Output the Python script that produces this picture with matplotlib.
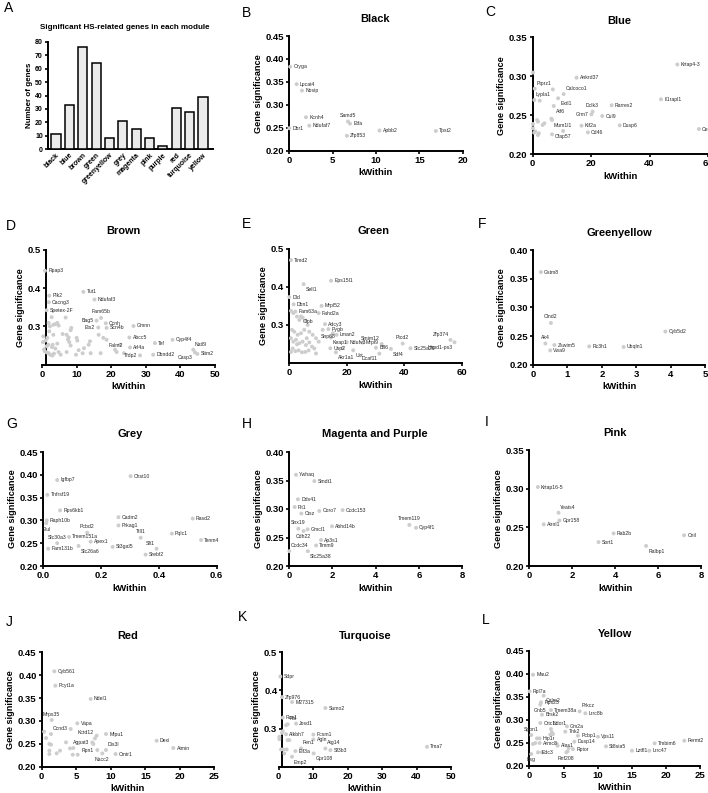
import matplotlib
matplotlib.use("Agg")
import matplotlib.pyplot as plt
from matplotlib.ticker import FormatStrFormatter

plt.rcParams['font.family'] = ['Liberation Sans', 'DejaVu Sans']

W, H = 708, 793
fig = plt.figure(figsize=(W / 100, H / 100), dpi=100)

# ---------------- data ----------------
modules = ['black', 'blue', 'brown', 'green', 'greenyellow', 'grey', 'magenta',
           'pink', 'purple', 'red', 'turquoise', 'yellow']
module_counts = [11, 33, 76, 64, 8, 21, 15, 8, 2, 31, 28, 39]

black_names = ['Cryga', 'Lpcat4', 'Nosip', 'Kcnh4', 'Ndufaf7', 'Dbr1', 'Samd5', 'Etfa', 'Zfp853', 'Apbb2', 'Tpst2']
black_x = [0.1, 0.85, 1.46, 1.92, 2.3, 0.0, 6.77, 7.0, 6.65, 10.4, 16.9]
black_y = [0.383, 0.345, 0.331, 0.273, 0.2545, 0.249, 0.2635, 0.259, 0.2325, 0.244, 0.243]

blue_names = ['Krtap4-3', 'Ankrd37', 'Ptprz1', 'Calcoco1', 'Lypla1', 'Extl1', 'Atf6', 'Dclk3', 'Rarres2',
              'Il1rapl1', 'Grm7', 'Cul9', 'Mum1l1', 'Kif2a', 'Dusp6', 'Cd46', 'Cfap57', 'Cers6',
              '', '', '', '', '', '', '', '', '', '', '', '', '', '', '']
blue_x = [49.5, 15.0, 0.7, 10.6, 0.57, 8.7, 7.2, 20.5, 27.0, 43.9, 20.1, 23.8, 6.6, 16.7, 29.8, 18.9, 10.4, 56.9,
          6.9, 2.4, 0.1, 1.5, 1.8, 3.4, 0.1, 0.5, 2.1, 1.8, 6.6, 6.4, 0.1, 0.9, 4.0]
blue_y = [0.315, 0.298, 0.284, 0.277, 0.2694, 0.2716, 0.2617, 0.2545, 0.2626, 0.2703, 0.251, 0.2488, 0.2437,
          0.2364, 0.2368, 0.2278, 0.2296, 0.2321,
          0.283, 0.2686, 0.3046, 0.2437, 0.2416, 0.2373, 0.2386, 0.2274, 0.2266, 0.2244, 0.2253, 0.2454,
          0.233, 0.229, 0.2395]

brown_names = ['Rpap3', 'Tut1', 'Plk2', 'Ndufaf3', 'Cacng3', 'Spetex-2F', 'Fam65b', 'Bag5', 'Ccnh', 'Scn4b',
               'Ets2', 'Gmnn', 'Abcc5', 'Falm2', 'Tef', 'Cyp4f4', 'Arl4a', 'Tfdp2', 'Dbndd2', 'Nat8l',
               'Casp3', 'Stim2'] + [''] * 54
brown_x = [0.77, 11.9, 2.0, 15.1, 1.9, 1.25, 17.0, 15.7, 18.4, 18.6, 16.2, 26.4, 25.2, 18.6, 32.6, 37.7, 25.4,
           28.3, 32.1, 43.7, 44.2, 44.9,
           0.29, 0.19, 0.97, 1.45, 1.83, 2.22, 2.70, 3.19, 3.76, 4.34, 4.73, 2.03, 3.19, 1.74, 2.99, 4.34,
           2.80, 3.76, 0.68, 1.25, 1.83, 2.32, 2.90, 3.38, 4.73, 5.89, 7.05, 7.43, 7.82, 8.20, 8.40, 8.20,
           7.05, 9.94, 10.14, 10.52, 9.75, 12.07, 11.68, 13.42, 13.80, 14.0, 16.31, 16.89, 17.66, 21.04,
           21.53, 22.49, 23.65, 6.76, 7.63, 5.31, 1.25, 0.5]
brown_y = [0.445, 0.390, 0.380, 0.370, 0.363, 0.342, 0.322, 0.315, 0.308, 0.296, 0.297, 0.301, 0.271, 0.265,
           0.2565, 0.265, 0.245, 0.2243, 0.226, 0.2391, 0.232, 0.228,
           0.274, 0.259, 0.263, 0.270, 0.309, 0.300, 0.324, 0.304, 0.306, 0.309, 0.302, 0.287, 0.278, 0.252,
           0.252, 0.255, 0.246, 0.242, 0.235, 0.232, 0.230, 0.226, 0.224, 0.229, 0.233, 0.280, 0.278, 0.266,
           0.259, 0.290, 0.296, 0.250, 0.233, 0.270, 0.263, 0.238, 0.226, 0.243, 0.230, 0.252, 0.261, 0.230,
           0.278, 0.230, 0.270, 0.239, 0.233, 0.252, 0.230, 0.323, 0.271, 0.226, 0.248, 0.240]

green_names = ['Timd2', 'Eps15l1', 'Sell1', 'Dld', 'Dbn1', 'Mrpl52', 'Fam63a', 'Fahd2a', 'Clpb', 'Adcy3',
               'Pygb', 'Snp68', 'Lman2', 'Keap1', 'Ndufv3', 'Mrpl9', 'Usp2', 'Akr1a1', 'Uxt', 'Dcaf11',
               'Smim12', 'Bfl6', 'Sdf4', 'Ptcd2', 'Slc25a29', 'Zfp374', 'Hspd1-ps3'] + [''] * 37
green_x = [0.58, 14.5, 4.98, 0.0, 1.5, 11.2, 2.1, 10.2, 4.06, 12.4, 13.56, 10.2, 16.45, 14.5, 20.0, 25.5,
           14.25, 16.2, 22.2, 31.3, 32.1, 30.1, 35.3, 39.4, 42.1, 56.0, 57.4,
           0.58, 1.39, 2.67, 3.48, 4.63, 5.79, 0.93, 1.74, 2.90, 4.06, 5.21, 6.37, 6.95, 8.11, 9.27, 0.58,
           1.39, 2.32, 3.48, 4.63, 5.79, 6.95, 7.88, 1.16, 2.09, 3.24, 4.40, 5.56, 6.72, 8.69, 9.27, 0.58,
           2.67, 6.05, 11.6, 15.1, 18.5]
green_y = [0.470, 0.416, 0.407, 0.373, 0.354, 0.350, 0.335, 0.331, 0.322, 0.302, 0.289, 0.256, 0.274, 0.267,
           0.2544, 0.2535, 0.2386, 0.228, 0.2333, 0.2246, 0.250, 0.240, 0.237, 0.251, 0.2386, 0.2605, 0.2544,
           0.337, 0.331, 0.322, 0.313, 0.319, 0.311, 0.287, 0.282, 0.274, 0.278, 0.287, 0.300, 0.282, 0.274,
           0.265, 0.265, 0.256, 0.261, 0.252, 0.256, 0.247, 0.254, 0.243, 0.238, 0.231, 0.233, 0.228, 0.229,
           0.233, 0.238, 0.225, 0.229, 0.249, 0.265, 0.287, 0.278, 0.239]

gy_names = ['Gstm8', 'Clnd2', 'Ak4', 'Zswim5', 'Vwa9', 'Rc3h1', 'Ubqln1', 'Cyb5d2']
gy_x = [0.23, 0.52, 0.36, 0.62, 0.5, 1.63, 2.63, 3.84]
gy_y = [0.362, 0.273, 0.237, 0.2344, 0.225, 0.232, 0.231, 0.258]

grey_names = ['Chst10', 'Igfbp7', 'Tnfrsf19', 'Rps6kb1', 'Raph10b', 'Glul', 'Cadm2', 'Prkag1', 'Rasd2',
              'Pcbd2', 'Slc30a3', 'Tmem151a', 'Ttll1', 'Pqlc1', 'Apex1', 'Sfi1', 'Tenm4', 'Fam131b',
              'Slc26a6', 'St3gal5', 'Srebf2']
grey_x = [0.302, 0.048, 0.014, 0.058, 0.012, 0.010, 0.26, 0.26, 0.517, 0.152, 0.048, 0.089, 0.337, 0.445,
          0.164, 0.392, 0.546, 0.017, 0.122, 0.24, 0.354]
grey_y = [0.397, 0.3886, 0.356, 0.322, 0.300, 0.294, 0.307, 0.289, 0.304, 0.273, 0.250, 0.2636, 0.262, 0.271,
          0.2534, 0.238, 0.257, 0.238, 0.244, 0.242, 0.225]

mp_names = ['Ywhaq', 'Smdt1', 'Ddx41', 'Fit1', 'Ctsz', 'Coro7', 'Ccdc153', 'Tmem119', 'Cyp4f1', 'Abhd14b',
            'Snx19', 'Gmcl1', 'Cdh22', 'Ap3s1', 'Ccdc34', 'Timm9', 'Slc25a38']
mp_x = [0.31, 1.16, 0.4, 0.25, 0.56, 1.39, 2.47, 5.56, 5.87, 1.98, 0.42, 0.85, 0.66, 1.47, 0.0, 1.24, 0.86]
mp_y = [0.360, 0.349, 0.317, 0.3035, 0.292, 0.2965, 0.298, 0.272, 0.267, 0.2696, 0.2655, 0.2643, 0.2614,
        0.2456, 0.226, 0.236, 0.226]

pink_names = ['Krtap16-5', 'Yeats4', 'Gpr158', 'Atrnl1', 'Rab2b', 'Sort1', 'Ralbp1', 'Cnil']
pink_x = [0.4, 1.36, 1.4, 0.67, 3.92, 3.22, 5.43, 7.2]
pink_y = [0.3024, 0.269, 0.259, 0.254, 0.2423, 0.231, 0.226, 0.2398]

red_names = ['Cyb561', 'Pcyt1a', 'Ndel1', 'Mrps35', 'Vapa', 'Ccnd3', 'Kctd12', 'Mipu1', 'Agpat3', 'Dexi',
             'Atmin', 'Dis3l', 'Rpn1', 'Nacc2', 'Cmtr1'] + [''] * 16
red_x = [1.83, 1.98, 7.09, 1.45, 5.16, 4.2, 7.72, 9.31, 7.34, 16.65, 19.06, 9.31, 8.06, 8.78, 10.7,
         0.34, 0.63, 1.11, 1.35, 1.11, 1.11, 1.35, 2.17, 2.65, 3.52, 4.1, 4.58, 4.49, 5.21, 7.96, 7.48]
red_y = [0.4085, 0.377, 0.348, 0.302, 0.2948, 0.2824, 0.262, 0.2714, 0.253, 0.2568, 0.2408, 0.2364, 0.2364,
         0.229, 0.2277,
         0.2765, 0.2627, 0.2496, 0.2481, 0.235, 0.2277, 0.2714, 0.2292, 0.235, 0.2532, 0.240, 0.2408, 0.2262,
         0.2262, 0.2678, 0.2496]

turq_names = ['Sdpr', 'Zfp976', 'M27315', 'Sumo2', 'Rce1', 'Fbl', 'Josd1', 'Alkbh7', 'Fcsm1', 'Agln',
              'Atg14', 'Sf3b3', 'Fen1', 'Eif3a', 'Gpr108', 'Emp2', 'Tma7'] + [''] * 11
turq_x = [0.48, 0.97, 3.87, 13.54, 1.16, 2.61, 5.03, 2.13, 10.06, 10.06, 13.54, 14.99, 6.48, 4.84, 10.15,
          3.87, 43.04,
          0.19, 0.19, 0.68, 1.35, 2.32, 1.64, 2.61, 3.09, 1.16, 0.97, 2.13]
turq_y = [0.4365, 0.3826, 0.3696, 0.3539, 0.3287, 0.3113, 0.313, 0.2852, 0.2843, 0.2713, 0.2478, 0.2435,
          0.2478, 0.2409, 0.2348, 0.2261, 0.2522,
          0.2783, 0.2722, 0.2452, 0.2452, 0.2452, 0.2348, 0.2696, 0.2696, 0.293, 0.2887, 0.3087]

yel_names = ['Mau2', 'Rpl7a', 'Calm2', 'Rps23', 'Gnb5', 'Tmem38a', 'Prkcz', 'Lrrc8b', 'Brsk2', 'Crtc1',
             'Gm2a', 'Ndor1', 'Tnk2', 'Pcbp1', 'Vps11', 'Spon1', 'Hip1r', 'Armc8', 'Dusp14', 'Alas1',
             'St8sia5', 'Tmbim6', 'Fermt2', 'Rptor', 'Rnf208', 'Lztfl1', 'Lrrc47', 'Edc3', 'Bsg'] + [''] * 10
yel_x = [0.54, 0.05, 2.1, 1.71, 1.61, 3.17, 7.36, 8.19, 1.85, 1.61, 5.51, 3.17, 5.26, 7.11, 10.04, 0.29,
         1.51, 1.51, 6.58, 4.14, 11.21, 18.32, 22.66, 6.38, 5.41, 15.01, 17.54, 1.27, 0.29,
         0.54, 0.88, 1.12, 1.85, 3.07, 3.46, 4.04, 5.75, 5.6, 3.31]
yel_y = [0.3978, 0.3616, 0.3522, 0.3377, 0.3326, 0.321, 0.3181, 0.3138, 0.3109, 0.2928, 0.2855, 0.2797,
         0.2739, 0.2652, 0.263, 0.2667, 0.2594, 0.2493, 0.2522, 0.2435, 0.242, 0.2486, 0.2543, 0.2362, 0.229,
         0.2326, 0.2326, 0.229, 0.2254,
         0.2471, 0.2493, 0.2594, 0.229, 0.2674, 0.2688, 0.2471, 0.2384, 0.2312, 0.2725]

# ---------------- helpers ----------------
def add_ax(l, t, r, b):
    return fig.add_axes([l / W, 1 - b / H, (r - l) / W, (b - t) / H])


def ftext(x, y, s, **kw):
    fig.text(x / W, 1 - y / H, s, **kw)


OFFS = {
    'r': (2.3, 0, 'left', 'center'),
    'l': (-2.3, 0, 'right', 'center'),
    'a': (0, 2.5, 'center', 'bottom'),
    'b': (0, -2.5, 'center', 'top'),
    'ar': (1.2, 2.2, 'left', 'bottom'),
    'br': (1.5, -2.0, 'left', 'top'),
    'al': (-1.2, 2.2, 'right', 'bottom'),
    'bl': (-1.5, -2.0, 'right', 'top'),
}

POINT_COLOR = '#cdcdcd'
SPINE_LW = 1.4


def style_axes(ax, fs=6.8):
    for s in ['top', 'right']:
        ax.spines[s].set_visible(False)
    for s in ['left', 'bottom']:
        ax.spines[s].set_linewidth(SPINE_LW)
    ax.tick_params(direction='out', length=2.5, width=1.2, labelsize=fs, pad=1.2)
    for lab in ax.get_xticklabels() + ax.get_yticklabels():
        lab.set_fontweight('bold')


def scatter_panel(box, names, xs, ys, xlim, xticks, ylim, yticks, yfmt, place,
                  xfmt=None, spine_x=None):
    ax = add_ax(*box)
    ax.scatter(xs, ys, s=8, color=POINT_COLOR, edgecolors='none', zorder=3, clip_on=False)
    for n, x, y in zip(names, xs, ys):
        if n:
            dx, dy, ha, va = OFFS[place.get(n, 'r')]
            ax.annotate(n, (x, y), xytext=(dx, dy), textcoords='offset points',
                        ha=ha, va=va, fontsize=3.7, color='#2a2a2a', annotation_clip=False)
    ax.set_xlim(*xlim)
    ax.set_ylim(*ylim)
    ax.set_xticks(xticks)
    ax.set_yticks(yticks)
    ax.yaxis.set_major_formatter(FormatStrFormatter(yfmt))
    if xfmt:
        ax.xaxis.set_major_formatter(FormatStrFormatter(xfmt))
    if spine_x is not None:
        ax.spines['left'].set_position(('data', spine_x))
    style_axes(ax)
    ax.set_xlabel('kWithin', fontsize=6.8, fontweight='bold', labelpad=2.5)
    ax.set_ylabel('Gene significance', fontsize=6.6, fontweight='bold', labelpad=2)
    return ax


# ---------------- panel A ----------------
axA = add_ax(48, 42, 213, 149)
axA.bar(range(len(modules)), module_counts, width=0.68, color='#ebebeb', edgecolor='black', linewidth=1.1,
        zorder=3)
axA.set_xlim(-0.6, 11.75)
axA.set_ylim(0, 80)
axA.set_yticks(range(0, 81, 10))
axA.set_xticks(range(len(modules)))
axA.set_xticklabels(modules, rotation=45, ha='right', rotation_mode='anchor')
style_axes(axA, fs=5)
axA.tick_params(axis='x', length=0, pad=2)
axA.set_ylabel('Number of genes', fontsize=5.8, fontweight='bold', labelpad=1.5)
ftext(125, 27.7, 'Significant HS-related genes in each module', ha='center', va='center',
      fontsize=5.8, fontweight='bold')

# ---------------- scatter panels ----------------
y45 = [0.20, 0.25, 0.30, 0.35, 0.40, 0.45]

scatter_panel((289.3, 36, 462.7, 150.7), black_names, black_x, black_y, (0, 20), [0, 5, 10, 15, 20],
              (0.2, 0.45), y45, '%.2f', {'Samd5': 'a'})

scatter_panel((532.7, 37.3, 708, 154), blue_names, blue_x, blue_y, (0, 60), [0, 20, 40, 60],
              (0.2, 0.35), [0.20, 0.25, 0.30, 0.35], '%.2f',
              {'Ptprz1': 'ar', 'Calcoco1': 'ar', 'Lypla1': 'ar', 'Extl1': 'br', 'Atf6': 'br',
               'Dclk3': 'a', 'Grm7': 'l', 'Cfap57': 'b', 'Mum1l1': 'br'})

scatter_panel((42.3, 249.7, 215, 364.7), brown_names, brown_x, brown_y, (0, 50), [0, 10, 20, 30, 40, 50],
              (0.2, 0.5), [0.3, 0.4, 0.5], '%.1f',
              {'Fam65b': 'a', 'Bag5': 'l', 'Ets2': 'l', 'Falm2': 'br', 'Tfdp2': 'l', 'Casp3': 'bl',
               'Nat8l': 'ar'}, spine_x=1.0)

scatter_panel((289.3, 248.7, 462, 363), green_names, green_x, green_y, (0, 60), [0, 20, 40, 60],
              (0.2, 0.5), [0.3, 0.4, 0.5], '%.1f',
              {'Sell1': 'br', 'Clpb': 'br', 'Snp68': 'ar', 'Keap1': 'br', 'Akr1a1': 'br', 'Uxt': 'br',
               'Dcaf11': 'bl', 'Smim12': 'al', 'Sdf4': 'br', 'Ptcd2': 'a', 'Zfp374': 'al',
               'Hspd1-ps3': 'bl'})

scatter_panel((533, 250.3, 705.3, 364.7), gy_names, gy_x, gy_y, (0, 5), [0, 1, 2, 3, 4, 5],
              (0.2, 0.4), [0.20, 0.25, 0.30, 0.35, 0.40], '%.2f', {'Clnd2': 'a', 'Ak4': 'a'})

scatter_panel((43.3, 452, 216.7, 566), grey_names, grey_x, grey_y, (0, 0.6), [0, 0.2, 0.4, 0.6],
              (0.2, 0.45), y45, '%.2f',
              {'Glul': 'b', 'Slc30a3': 'a', 'Pcbd2': 'a', 'Ttll1': 'a', 'Sfi1': 'al', 'Slc26a6': 'br'},
              xfmt='%.1f')

scatter_panel((289.3, 452, 462, 566), mp_names, mp_x, mp_y, (0, 8), [0, 2, 4, 6, 8],
              (0.2, 0.4), [0.20, 0.25, 0.30, 0.35, 0.40], '%.2f',
              {'Snx19': 'a', 'Cdh22': 'b', 'Ccdc34': 'ar', 'Slc25a38': 'br', 'Tmem119': 'a'})

scatter_panel((529.3, 450.3, 701.3, 566), pink_names, pink_x, pink_y, (0, 8), [0, 2, 4, 6, 8],
              (0.2, 0.35), [0.20, 0.25, 0.30, 0.35], '%.2f', {'Yeats4': 'ar', 'Ralbp1': 'br'})

scatter_panel((41.7, 652.3, 214.3, 766.7), red_names, red_x, red_y, (0, 25), [0, 5, 10, 15, 20, 25],
              (0.2, 0.45), y45, '%.2f',
              {'Mrps35': 'a', 'Ccnd3': 'l', 'Kctd12': 'al', 'Agpat3': 'l', 'Dis3l': 'ar', 'Rpn1': 'l',
               'Nacc2': 'b'})

scatter_panel((278.7, 652.3, 451, 766.7), turq_names, turq_x, turq_y, (0, 50), [0, 10, 20, 30, 40, 50],
              (0.2, 0.5), [0.3, 0.4, 0.5], '%.1f',
              {'Fbl': 'ar', 'Fen1': 'ar', 'Atg14': 'ar', 'Emp2': 'br', 'Gpr108': 'br'}, spine_x=1.1)

scatter_panel((529.3, 650.7, 700.3, 765.7), yel_names, yel_x, yel_y, (0, 25), [0, 5, 10, 15, 20, 25],
              (0.2, 0.45), y45, '%.2f',
              {'Calm2': 'br', 'Gnb5': 'b', 'Prkcz': 'ar', 'Ndor1': 'ar', 'Rnf208': 'b', 'Bsg': 'b',
               'Spon1': 'a'})

# ---------------- titles & letters ----------------
titles = [('Black', 375, 19.3), ('Blue', 619, 20.7), ('Brown', 123, 231.3), ('Green', 374, 231.3),
          ('Greenyellow', 619, 233), ('Grey', 130, 434.3), ('Magenta and Purple', 375, 434.3),
          ('Pink', 615, 433.3), ('Red', 128, 635.7), ('Turquoise', 365, 636.3), ('Yellow', 615, 634)]
for t, x, y in titles:
    ftext(x, y, t, ha='center', va='center', fontsize=7.9, fontweight='bold')

letters = [('A', 4, 12), ('B', 242, 17), ('C', 485, 16), ('D', 6, 229.7), ('E', 242, 228), ('F', 478, 228),
           ('G', 6, 427.7), ('H', 242, 427.7), ('I', 485, 426), ('J', 6, 625.7), ('K', 238, 620.7),
           ('L', 482, 624)]
for t, x, y in letters:
    ftext(x, y, t, ha='left', va='baseline', fontsize=10)

fig.savefig('out.png', dpi=100)
